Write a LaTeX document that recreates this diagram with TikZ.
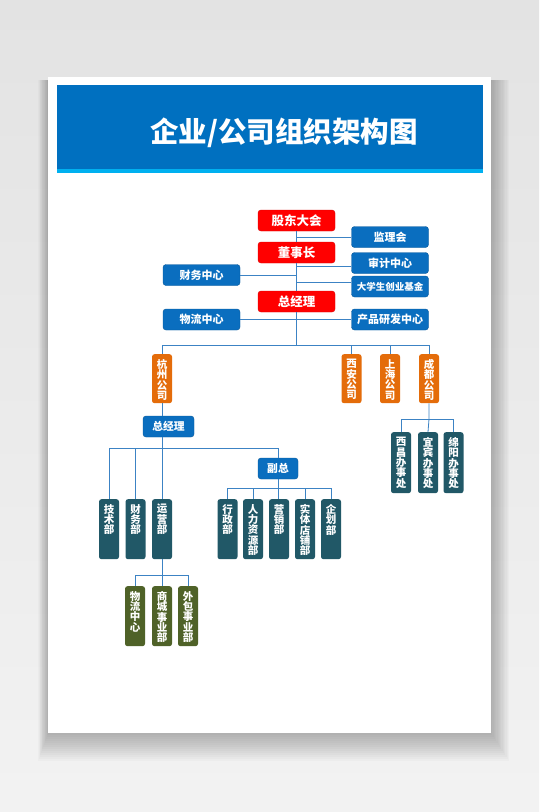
\documentclass[tikz,border=0pt]{standalone}
\usepackage{fontspec}
\newfontfamily\cjk{Noto Sans CJK SC}
\usepackage{xcolor}
\usepackage{tikz}
\usetikzlibrary{calc, positioning}

\definecolor{hdrblue}{HTML}{0070C0}
\definecolor{hdrstripe}{HTML}{00B0F0}
\definecolor{boxblue}{HTML}{0A6EBF}
\definecolor{boxred}{HTML}{FF0000}
\definecolor{boxorange}{HTML}{E46C0A}
\definecolor{boxteal}{HTML}{215867}
\definecolor{boxolive}{HTML}{4F6228}
\definecolor{linkblue}{HTML}{3C83C4}

% vertical text stack inside a tall box
\newcommand\vtxt[2]{\parbox[t][#1pt][t]{20pt}{\centering\vspace{5pt}#2}}

\tikzset{
  hbox/.style={rounded corners=3pt, inner sep=0pt, minimum width=77pt, minimum height=21pt,
               text=white, font=\cjk\bfseries\fontsize{11}{12}\selectfont},
  redbox/.style={hbox, fill=boxred, draw=boxred!85!black, font=\cjk\bfseries\fontsize{12.5}{14}\selectfont},
  bluebox/.style={hbox, fill=boxblue, draw=boxblue!80!black},
  tallbox/.style={rounded corners=2.5pt, inner sep=0pt, anchor=north, text=white,
                  font=\cjk\bfseries\fontsize{10.5}{10.4}\selectfont},
  link/.style={draw=linkblue, line width=0.8pt},
}

\begin{document}
\begin{tikzpicture}[x=1pt, y=-1pt]
\useasboundingbox (0,0) rectangle (539,812);

% ── page, card and header ─────────────────────────────────────────
\shade[top color=black!11, bottom color=black!5] (0,0) rectangle (539,812);
\foreach \i in {1,...,14}
    \fill[black, opacity=0.02] (48-0.7*\i, 80) rectangle (491+1.3*\i, 733+2*\i);
\fill[white] (48,77) rectangle (491,733);
\fill[hdrblue] (57,85) rectangle (483,169);
\fill[hdrstripe] (57,169) rectangle (483,173);
\node[font=\cjk\bfseries\fontsize{28.5}{31}\selectfont, text=white] (title) at (284,133) {企业/公司组织架构图};

% ── top management ────────────────────────────────────────────────
\node[redbox] (holders) at (296.5,220.5) {股东大会};
\node[redbox] (board) at (296.5,252.5) {董事长};
\node[redbox] (ceo) at (296.5,301.5) {总经理};

\node[bluebox] (supervise) at (390,237) {监理会};
\node[bluebox] (audit) at (390,263) {审计中心};
\node[bluebox, font=\cjk\bfseries\fontsize{9.5}{11}\selectfont] (fund) at (390,286.5) {大学生创业基金};
\node[bluebox] (rnd) at (390,319.5) {产品研发中心};
\node[bluebox] (finance) at (201.5,275) {财务中心};
\node[bluebox] (logistics) at (201.5,319.5) {物流中心};

\draw[link] (holders) -- (board);
\draw[link] (board) -- (ceo);
\draw[link] (supervise.west) -- (supervise.west -| holders.south);
\draw[link] ($(audit.west)+(0,3)$) -- ($(audit.west -| board.south)+(0,3)$);
\draw[link] ($(fund.west)+(0,-4.5)$) -- ($(fund.west -| board.south)+(0,-4.5)$);
\draw[link] (finance.east) -- (finance.east -| board.south);
\draw[link] (logistics.east) -- (rnd.west);

% ── branch companies ──────────────────────────────────────────────
\coordinate (bar) at (296.5,345);
\node[tallbox, fill=boxorange] (hz) at (162,354) {\vtxt{49}{杭\\州\\公\\司}};
\node[tallbox, fill=boxorange] (xa) at (351.5,354) {\vtxt{49}{西\\安\\公\\司}};
\node[tallbox, fill=boxorange] (sh) at (390,354) {\vtxt{49}{上\\海\\公\\司}};
\node[tallbox, fill=boxorange] (cd) at (429,354) {\vtxt{49}{成\\都\\公\\司}};

\draw[link] (ceo.south) -- (bar);
\draw[link] (hz.north) -- (hz.north |- bar) -- (bar -| cd.north) -- (cd.north);
\draw[link] (xa.north) -- (xa.north |- bar);
\draw[link] (sh.north) -- (sh.north |- bar);

% ── Chengdu offices ───────────────────────────────────────────────
\coordinate (offbar) at (428,419);
\node[tallbox, fill=boxteal] (xc) at (401,432) {\vtxt{61}{西\\昌\\办\\事\\处}};
\node[tallbox, fill=boxteal] (yb) at (428,432) {\vtxt{61}{宜\\宾\\办\\事\\处}};
\node[tallbox, fill=boxteal] (my) at (453.5,432) {\vtxt{61}{绵\\阳\\办\\事\\处}};

\draw[link] (cd.south) -- (cd.south |- offbar) -- (yb.north);
\draw[link] (xc.north) -- (xc.north |- offbar) -- (offbar -| my.north) -- (my.north);

% ── Hangzhou company ──────────────────────────────────────────────
\node[bluebox, minimum width=51pt, font=\cjk\bfseries\fontsize{10.8}{12}\selectfont] (hzceo) at (168.5,426.5) {总经理};
\node[bluebox, minimum width=40pt, font=\cjk\bfseries\fontsize{10.8}{12}\selectfont] (deputy) at (278,468.5) {副总};

\coordinate (hzbar) at (162,448);
\coordinate (depbar) at (279,488);
\coordinate (opsbar) at (162,575);

\node[tallbox, fill=boxteal] (tech) at (109,499) {\vtxt{60}{技\\术\\部}};
\node[tallbox, fill=boxteal] (acct) at (135.5,499) {\vtxt{60}{财\\务\\部}};
\node[tallbox, fill=boxteal] (ops) at (162,499) {\vtxt{60}{运\\营\\部}};

\node[tallbox, fill=boxteal] (admin) at (227.5,499) {\vtxt{60}{行\\政\\部}};
\node[tallbox, fill=boxteal] (hr) at (253,499) {\vtxt{60}{人\\力\\资\\源\\部}};
\node[tallbox, fill=boxteal] (sales) at (279,499) {\vtxt{60}{营\\销\\部}};
\node[tallbox, fill=boxteal] (stores) at (305,499) {\vtxt{60}{实\\体\\店\\铺\\部}};
\node[tallbox, fill=boxteal] (plan) at (331,499) {\vtxt{60}{企\\划\\部}};

\node[tallbox, fill=boxolive] (wl) at (135,586) {\vtxt{60}{物\\流\\中\\心}};
\node[tallbox, fill=boxolive] (mall) at (162,586) {\vtxt{60}{商\\城\\事\\业\\部}};
\node[tallbox, fill=boxolive] (outsrc) at (188,586) {\vtxt{60}{外\\包\\事\\业\\部}};

\draw[link] (hz.south) -- (hz.south |- hzceo.north);
\draw[link] (hz.south |- hzceo.south) -- (ops.north);
\draw[link] (tech.north) -- (tech.north |- hzbar) -- (hzbar -| deputy.north) -- (deputy.north);
\draw[link] (acct.north) -- (acct.north |- hzbar);

\draw[link] (deputy.south) -- (deputy.south |- sales.north);
\draw[link] (admin.north) -- (admin.north |- depbar) -- (depbar -| plan.north) -- (plan.north);
\draw[link] (hr.north) -- (hr.north |- depbar);
\draw[link] (stores.north) -- (stores.north |- depbar);

\draw[link] (ops.south) -- (mall.north);
\draw[link] (wl.north) -- (wl.north |- opsbar) -- (opsbar -| outsrc.north) -- (outsrc.north);

\end{tikzpicture}
\end{document}
